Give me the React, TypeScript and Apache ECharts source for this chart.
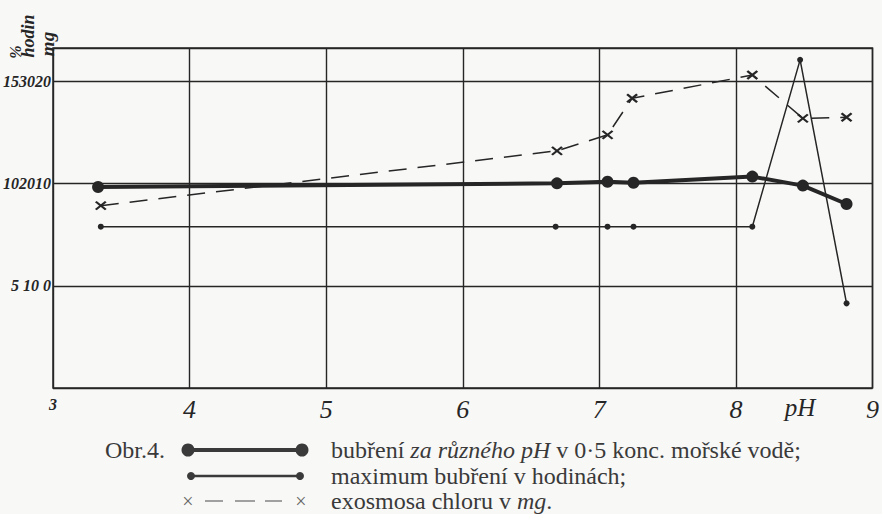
import React, { useEffect, useRef } from "react";
import * as echarts from "echarts";

// ---- data ----
const xTicks = [3, 4, 5, 6, 7, 8, 9];
const yTickValues = [5, 10, 15];
const yTickLabels = ["5 10 0", "102010", "153020"];

const swellPH = [3.33, 6.69, 7.06, 7.25, 8.12, 8.49, 8.81];
const swellVal = [9.83, 10.01, 10.09, 10.04, 10.34, 9.9, 9.0];

const maxPH = [3.35, 6.68, 7.06, 7.25, 8.12, 8.47, 8.81];
const maxVal = [7.89, 7.89, 7.89, 7.89, 7.89, 16.05, 4.14];

const chlorPH = [3.35, 6.69, 7.06, 7.24, 8.12, 8.49, 8.81];
const chlorVal = [8.92, 11.6, 12.38, 14.17, 15.31, 13.19, 13.24];

const seriesNames = [
  "bubření za různého pH v 0·5 konc. mořské vodě",
  "maximum bubření v hodinách",
  "exosmosa chloru v mg",
];

const INK = "#262626";
const PRINT = "#3a3a3a";
const SERIF = "Liberation Serif";

const zip = (xs: number[], ys: number[]) => xs.map((x, i) => [x, ys[i]]);

const txt = (
  text: string,
  size: number,
  opts: { italic?: boolean; bold?: boolean; fill?: string; align?: string; rich?: any } = {}
) => ({
  text,
  fontFamily: SERIF,
  fontSize: size,
  fontStyle: opts.italic ? "italic" : "normal",
  fontWeight: opts.bold ? "bold" : "normal",
  fill: opts.fill || PRINT,
  align: opts.align || "left",
  verticalAlign: "middle",
  rich: opts.rich,
});

export default function App() {
  const ref = useRef<HTMLDivElement>(null);

  useEffect(() => {
    if (!ref.current) return;
    const chart = echarts.init(ref.current, null, { renderer: "svg" });
    const capY1 = 450;
    const capY2 = 476;
    const capY3 = 501;
    const richItalic = { i: { fontStyle: "italic", fontSize: 24, fontFamily: SERIF, fill: PRINT } };
    chart.setOption({
      animation: false,
      backgroundColor: "#f8f8f7",
      grid: {
        left: 52,
        right: 5,
        top: 48,
        bottom: 126,
        show: true,
        borderColor: INK,
        borderWidth: 1.5,
      },
      xAxis: {
        type: "value",
        min: xTicks[0],
        max: xTicks[xTicks.length - 1],
        interval: 1,
        axisLine: { show: false },
        axisTick: { show: false },
        splitLine: { show: true, lineStyle: { color: INK, width: 1.4 } },
        axisLabel: {
          margin: 8,
          color: INK,
          fontFamily: SERIF,
          fontStyle: "italic",
          fontSize: 26,
          formatter: (v: number) => (v === xTicks[0] ? "{s|" + v + "}" : String(v)),
          rich: { s: { fontSize: 16, fontWeight: "bold", fontFamily: SERIF, color: INK } },
        },
      },
      yAxis: {
        type: "value",
        min: 0,
        max: 16.63,
        interval: 5,
        axisLine: { show: false },
        axisTick: { show: false },
        splitLine: { show: true, lineStyle: { color: INK, width: 1.4 } },
        axisLabel: {
          margin: 2,
          color: INK,
          fontFamily: SERIF,
          fontStyle: "italic",
          fontWeight: "bold",
          fontSize: 16,
          showMaxLabel: false,
          formatter: (v: number) => {
            const i = yTickValues.indexOf(v);
            return i >= 0 ? yTickLabels[i] : "";
          },
        },
      },
      series: [
        {
          name: seriesNames[0],
          type: "line",
          data: zip(swellPH, swellVal),
          symbol: "circle",
          symbolSize: 12,
          lineStyle: { color: INK, width: 4 },
          itemStyle: { color: INK },
          z: 5,
        },
        {
          name: seriesNames[1],
          type: "line",
          data: zip(maxPH, maxVal),
          symbol: "circle",
          symbolSize: 6,
          lineStyle: { color: INK, width: 1.5 },
          itemStyle: { color: INK },
          z: 4,
        },
        {
          name: seriesNames[2],
          type: "line",
          data: zip(chlorPH, chlorVal),
          symbol: "path://M0,0L10,8M10,0L0,8",
          symbolSize: [10, 8],
          lineStyle: { color: INK, width: 1.5, type: [18, 11] },
          itemStyle: { color: "none", borderColor: INK, borderWidth: 2.2 },
          z: 3,
        },
      ],
      graphic: [
        // y-axis unit header (handwritten)
        { type: "text", x: 15, y: 52, rotation: Math.PI / 2, style: txt("%", 16, { italic: true, bold: true, fill: INK, align: "center" }) },
        { type: "text", x: 28, y: 36, rotation: Math.PI / 2, style: txt("hodin", 18, { italic: true, bold: true, fill: INK, align: "center" }) },
        { type: "text", x: 47, y: 44, rotation: Math.PI / 2, style: txt("mg", 19, { italic: true, bold: true, fill: INK, align: "center" }) },
        // pH axis title between 8 and 9
        { type: "text", x: 800, y: 407, style: txt("pH", 25, { italic: true, fill: INK, align: "center" }) },
        // caption
        { type: "text", x: 165, y: capY1, style: txt("Obr.4.", 24, { align: "right" }) },
        // legend row 1
        { type: "line", shape: { x1: 188, y1: capY1, x2: 302, y2: capY1 }, style: { stroke: PRINT, lineWidth: 4 } },
        { type: "circle", shape: { cx: 188, cy: capY1, r: 6.5 }, style: { fill: PRINT } },
        { type: "circle", shape: { cx: 302, cy: capY1, r: 6.5 }, style: { fill: PRINT } },
        // legend row 2
        { type: "line", shape: { x1: 191, y1: capY2, x2: 300, y2: capY2 }, style: { stroke: PRINT, lineWidth: 2.5 } },
        { type: "circle", shape: { cx: 191, cy: capY2, r: 4 }, style: { fill: PRINT } },
        { type: "circle", shape: { cx: 300, cy: capY2, r: 4 }, style: { fill: PRINT } },
        // legend row 3
        { type: "text", x: 188, y: capY3, style: txt("×", 20, { fill: "#666", align: "center" }) },
        { type: "text", x: 301, y: capY3, style: txt("×", 20, { fill: "#666", align: "center" }) },
        { type: "line", shape: { x1: 205, y1: capY3, x2: 223, y2: capY3 }, style: { stroke: "#666", lineWidth: 1.2 } },
        { type: "line", shape: { x1: 235, y1: capY3, x2: 255, y2: capY3 }, style: { stroke: "#666", lineWidth: 1.2 } },
        { type: "line", shape: { x1: 265, y1: capY3, x2: 282, y2: capY3 }, style: { stroke: "#666", lineWidth: 1.2 } },
        // legend texts
        {
          type: "text",
          x: 331,
          y: capY1,
          style: txt("bubření {i|za různého pH} v 0·5 konc. mořské vodě;", 24, { rich: richItalic }),
        },
        { type: "text", x: 331, y: capY2, style: txt("maximum bubření v hodinách;", 24) },
        { type: "text", x: 331, y: capY3, style: txt("exosmosa chloru v {i|mg}.", 24, { rich: richItalic }) },
      ],
    });
    return () => chart.dispose();
  }, []);

  return (
    <div
      ref={ref}
      style={{ position: "absolute", left: 0, top: 0, width: 882, height: 514, background: "#f8f8f7" }}
    />
  );
}
